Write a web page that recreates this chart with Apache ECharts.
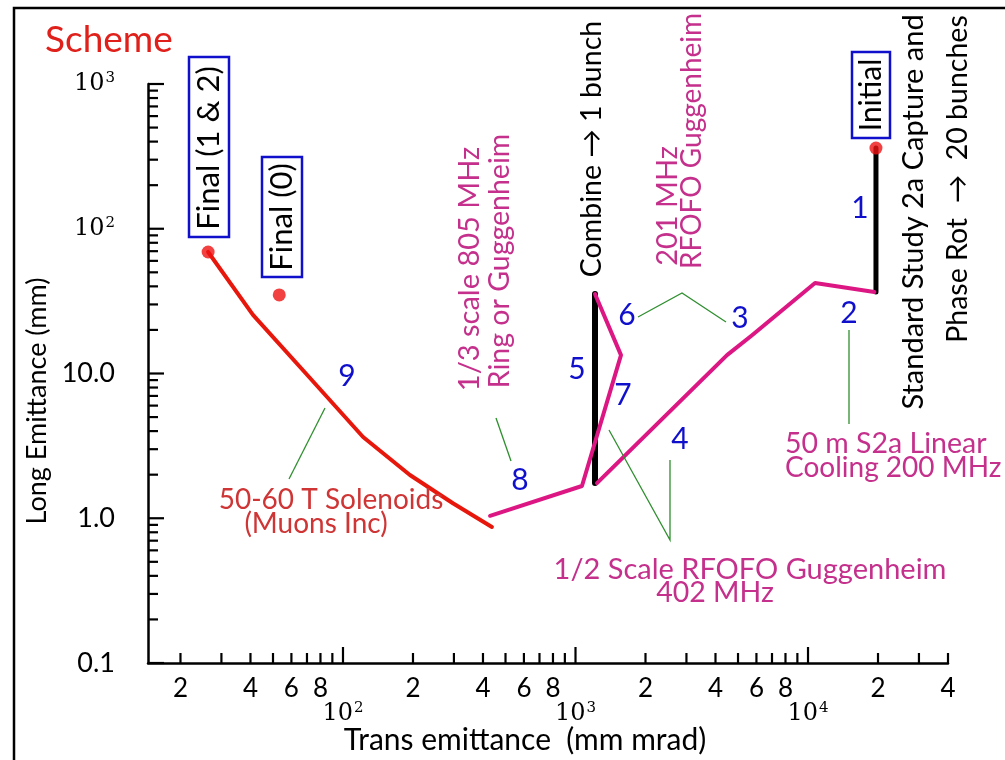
<!DOCTYPE html>
<html><head><meta charset="utf-8">
<script src="https://cdn.jsdelivr.net/npm/echarts@6/dist/echarts.min.js"></script>
<style>html,body{margin:0;padding:0;background:#fff}#c{width:1005px;height:760px}</style>
</head><body><div id="c"></div>
<script>
// ---------- data (trans emittance mm mrad, long emittance mm) ----------
const solenoidStage = [[26.3,69.1],[41.0,25.4],[72.1,9.31],[122,3.64],[194,1.99],[297,1.27],[437,0.87]]; // stage 9
const coolingStages = [[19300,36.6],[10720,42.2],[5745,18.4],[4483,13.4],[1237,1.75]];                 // stages 2-4
const ringStages    = [[1213,35.4],[1569,13.4],[1066,1.67],[429,1.04]];                                 // stages 6-8
const captureStage  = [[19600,361],[19600,36.6]];                                                       // stage 1
const combineStage  = [[1213,1.75],[1213,35.4]];                                                        // stage 5
const endPoints     = [[26.3,69.1],[53.2,34.9],[19600,361]];                                            // Final(1&2), Final(0), Initial

const X_MIN = 14.5, X_MAX = 40000, Y_MIN = 0.1, Y_MAX = 1000;
const xMinorTicks = [20,30,40,50,60,70,80,90,200,300,400,500,600,700,800,900,2000,3000,4000,5000,6000,7000,8000,9000,20000,30000,40000];
const xMajorTicks = [100,1000,10000];
const yMinorTicks = [0.2,0.3,0.4,0.5,0.6,0.7,0.8,0.9,2,3,4,5,6,7,8,9,20,30,40,50,60,70,80,90,200,300,400,500,600,700,800,900];
const yMajorTicks = [0.1,1,10,100,1000];
const xDigitVals  = [20,40,60,80,200,400,600,800,2000,4000,6000,8000,20000,40000];
const xDigitText  = ['2','4','6','8','2','4','6','8','2','4','6','8','2','4'];
const xPowVals    = [100,1000,10000];
const xPowText    = ['{b|10}{s|2}','{b|10}{s|3}','{b|10}{s|4}'];
const yLabelVals  = [0.1,1,10,100,1000];
const yLabelText  = ['0.1','1.0','10.0','{b|10}{s|2}','{b|10}{s|3}'];

// ---------- styling ----------
const FONT = 'Lato';
const PINK = '#dc1784', PINKTXT = '#c4308c', RED = '#e8170c', REDTXT = '#cf3535', BLUE = '#1010cc', GREEN = '#2f8f2f';
const powRich = {
  b:{fontFamily:'DejaVu Serif', fontSize:24, color:'#000'},
  s:{fontFamily:'DejaVu Serif', fontSize:15, color:'#000', verticalAlign:'top', padding:[0,0,12,1]}
};

function tickSeries(vals, isX, len) {
  return {
    type:'custom', silent:true, z:5, clip:false,
    data: vals.map(v => isX ? [v, Y_MIN] : [X_MIN, v]),
    renderItem:(params, api) => {
      const p = api.coord([api.value(0), api.value(1)]);
      return {type:'line',
        shape: isX ? {x1:p[0], y1:p[1], x2:p[0], y2:p[1]-len} : {x1:p[0], y1:p[1], x2:p[0]+len, y2:p[1]},
        style:{stroke:'#000', lineWidth:2.2}};
    }
  };
}
function labelSeries(vals, texts, isX, off, fontSize) {
  return {
    type:'custom', silent:true, z:5, clip:false,
    data: vals.map((v,i) => isX ? [v, Y_MIN, i] : [X_MIN, v, i]),
    renderItem:(params, api) => {
      const p = api.coord([api.value(0), api.value(1)]);
      const t = texts[api.value(2)];
      return {type:'text',
        x: isX ? p[0] : p[0] - off, y: isX ? p[1] + off : p[1],
        style:{text:t, fontFamily:FONT, fontSize:fontSize, fill:'#000',
          align: isX ? 'center' : 'right', verticalAlign:'middle', rich:powRich}};
    }
  };
}
function lineSeries(data, color, width, z) {
  return {type:'line', data:data, symbol:'none', silent:true, z:z,
    lineStyle:{color:color, width:width, cap:'round', join:'round'}};
}
function txt(x, y, text, color, size, rot, align) {
  return {type:'text', x:x, y:y, rotation: rot ? Math.PI/2 : 0, z:10,
    style:{text:text, fill:color, fontFamily:FONT, fontSize:size, align:align||'center', verticalAlign:'middle'}};
}
function poly(pts) {
  return {type:'polyline', z:9, shape:{points:pts}, style:{stroke:GREEN, lineWidth:1.3, fill:null}};
}
function box(x, y, w, h) {
  return {type:'rect', z:10, shape:{x:x, y:y, width:w, height:h}, style:{fill:'#fff', stroke:BLUE, lineWidth:2.5}};
}

const chart = echarts.init(document.getElementById('c'), null, {renderer:'canvas'});
chart.setOption({
  animation:false,
  backgroundColor:'#fff',
  grid:{left:148, right:57, top:84, bottom:97, containLabel:false, outerBoundsMode:'none'},
  xAxis:{type:'log', logBase:10, min:X_MIN, max:X_MAX,
    axisLine:{show:true, onZero:false, lineStyle:{color:'#000', width:2.5}},
    axisTick:{show:false}, axisLabel:{show:false}, splitLine:{show:false}, minorTick:{show:false}},
  yAxis:{type:'log', logBase:10, min:Y_MIN, max:Y_MAX,
    axisLine:{show:true, onZero:false, lineStyle:{color:'#000', width:2.5}},
    axisTick:{show:false}, axisLabel:{show:false}, splitLine:{show:false}, minorTick:{show:false}},
  series:[
    tickSeries(xMinorTicks, true, 10),
    tickSeries(xMajorTicks, true, 16),
    tickSeries(yMinorTicks, false, 10),
    tickSeries(yMajorTicks, false, 16),
    labelSeries(xDigitVals, xDigitText, true, 26, 26),
    labelSeries(xPowVals, xPowText, true, 51, 26),
    labelSeries(yLabelVals, yLabelText, false, 33, 27),
    lineSeries(captureStage, '#000', 5, 2),
    lineSeries(combineStage, '#000', 6, 2),
    lineSeries(coolingStages, PINK, 4, 3),
    lineSeries(ringStages, PINK, 4, 3),
    lineSeries(solenoidStage, RED, 4, 3),
    {type:'scatter', data:endPoints, symbol:'circle', symbolSize:13, silent:true, z:4,
     itemStyle:{color:'#ee1111'}}
  ],
  graphic:[
    {type:'rect', z:0, shape:{x:14, y:8, width:1000, height:800}, style:{fill:null, stroke:'#000', lineWidth:2.5}},
    txt(45, 40, 'Scheme', '#e0201a', 37, false, 'left'),
    txt(37, 401, 'Long Emittance (mm)', '#000', 27, true),
    txt(525, 740, 'Trans emittance  (mm mrad)', '#000', 30, false),
    // boxed labels
    box(189, 57, 40, 180), txt(209, 148, 'Final (1 & 2)', '#000', 31, true),
    box(262, 157, 40, 120), txt(282, 217, 'Final (0)', '#000', 31, true),
    box(852, 52, 38, 86),  txt(871, 95, 'Initial', '#000', 30, true),
    // rotated annotations
    txt(470, 269, '1/3 scale 805 MHz', PINKTXT, 29, true),
    txt(500, 261, 'Ring or Guggenheim', PINKTXT, 28.5, true),
    txt(592, 149, 'Combine \u2192 1 bunch', '#000', 28.5, true),
    txt(668, 206, '201 MHz', PINKTXT, 29, true),
    txt(692, 141, 'RFOFO Guggenheim', PINKTXT, 28, true),
    txt(914, 212, 'Standard Study 2a Capture and', '#000', 29, true),
    txt(958, 179, 'Phase Rot  \u2192  20 bunches', '#000', 28.5, true),
    // horizontal annotations
    txt(331, 500, '50-60 T Solenoids', REDTXT, 28, false),
    txt(316, 524, '(Muons Inc)', REDTXT, 28, false),
    txt(785, 444, '50 m S2a Linear', PINKTXT, 28.5, false, 'left'),
    txt(785, 468, 'Cooling 200 MHz', PINKTXT, 28, false, 'left'),
    txt(750, 570, '1/2 Scale RFOFO Guggenheim', PINKTXT, 29, false),
    txt(715, 593, '402 MHz', PINKTXT, 28.5, false),
    // stage numbers
    txt(860, 208, '1', BLUE, 30), txt(849, 313, '2', BLUE, 30), txt(740, 318, '3', BLUE, 30),
    txt(680, 439, '4', BLUE, 30), txt(577, 369, '5', BLUE, 30), txt(627, 315, '6', BLUE, 30),
    txt(623, 395, '7', BLUE, 30), txt(520, 480, '8', BLUE, 30), txt(347, 376, '9', BLUE, 30),
    // leader lines
    poly([[325,408],[289,479]]),
    poly([[496,418],[511,461]]),
    poly([[638,317],[682,293],[726,322]]),
    poly([[609,430],[670,540],[670,460]]),
    poly([[849,330],[849,424]])
  ]
});
</script></body></html>
